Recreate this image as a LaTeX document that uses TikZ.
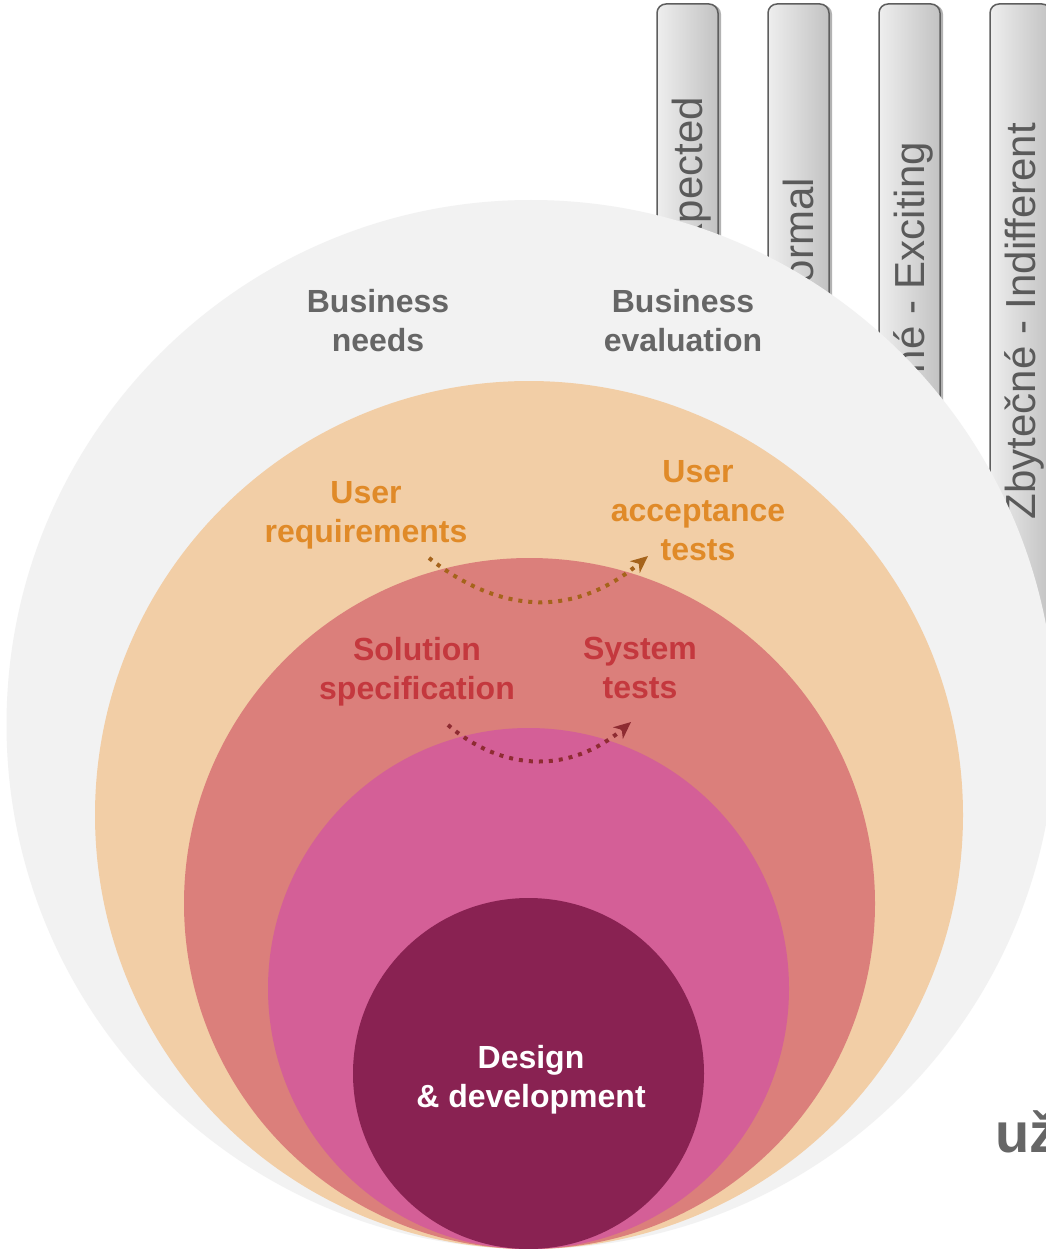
\documentclass[tikz,border=0pt]{standalone}
\usepackage{fontspec}
\setmainfont{Liberation Sans}
\usetikzlibrary{arrows.meta,shadows}
\definecolor{cgray}{HTML}{F2F2F2}
\definecolor{cpeach}{HTML}{F2CEA6}
\definecolor{cred}{HTML}{DB7F7B}
\definecolor{cpink}{HTML}{D45F97}
\definecolor{cdark}{HTML}{892252}
\definecolor{tgray}{HTML}{666666}
\definecolor{torange}{HTML}{E08A28}
\definecolor{tred}{HTML}{C4383E}
\definecolor{abrown}{HTML}{A5631B}
\definecolor{adred}{HTML}{8E2B32}
\definecolor{tabline}{HTML}{5E5E5E}
\definecolor{tabl}{HTML}{EEEEEE}
\definecolor{tabr}{HTML}{C2C2C2}
\definecolor{tabtext}{HTML}{5A5A5A}
\begin{document}
\begin{tikzpicture}[x=1pt,y=-1pt,
  tabbox/.style={draw=tabline,line width=1.5pt,rounded corners=9pt,
    left color=tabl,right color=tabr,
    drop shadow={shadow xshift=3pt,shadow yshift=-1pt,opacity=.3,fill=black}},
  tabtxt/.style={rotate=90,anchor=base east,inner sep=0pt,text=tabtext,
    font=\fontsize{42}{50}\selectfont},
  lbl/.style={align=center,inner sep=0pt,font=\bfseries\fontsize{32}{39}\selectfont},
  arr/.style={line width=4pt,dash pattern=on 4pt off 6pt,
    -{Stealth[length=17pt,width=15pt,inset=5pt]}}]
\useasboundingbox (0,0) rectangle (1045,1249);
\fill[white] (0,0) rectangle (1045,1249);
% tabs
\draw[tabbox] (657,4) rectangle (718,720);
\draw[tabbox] (768,4) rectangle (829,720);
\draw[tabbox] (879,4) rectangle (940,720);
\draw[tabbox] (990,4) rectangle (1051,720);
\node[tabtxt] (t1) at (702.5,97) {Expected};
\node[tabtxt] (t2) at (813.5,178) {Normal};
\node[tabtxt] (t3) at (924.5,142) {né - Exciting};
\node[tabtxt] (t4) at (1035.5,123) {Zbytečné - Indifferent};
% circles
\fill[cgray] (531,724.5) circle[radius=524.5pt];
\fill[cpeach] (529,815) circle[radius=434pt];
\fill[cred] (529.5,903.5) circle[radius=345.5pt];
\fill[cpink] (528.5,988.5) circle[radius=260.5pt];
\fill[cdark] (528.5,1073.5) circle[radius=175.5pt];
% labels
\node[lbl,text=tgray] (bn) at (378,321) {Business\\needs};
\node[lbl,text=tgray] (be) at (683,321) {Business\\evaluation};
\node[lbl,text=torange] (ur) at (366,515) {User\\requirements};
\node[lbl,text=torange] (ua) at (698,511) {User\\acceptance\\tests};
\node[lbl,text=tred] (ss) at (417,672) {Solution\\specification};
\node[lbl,text=tred] (st) at (640,668) {System\\tests};
\node[lbl,text=white] (dd) at (531,1080) {Design\\\& development};
\node[anchor=base west,inner sep=0pt,text=tgray,font=\bfseries\fontsize{56}{60}\selectfont] (uz) at (995,1152) {už};
% arrows
\coordinate (a1s) at (429,558);
\coordinate (a1e) at (648,556);
\coordinate (a2s) at (448,725);
\coordinate (a2e) at (631,722);
\draw[arr,abrown] (a1s) .. controls (497,612) and (572,620) .. (a1e);
\draw[arr,adred] (a2s) .. controls (504,773) and (571,773) .. (a2e);
\end{tikzpicture}
\end{document}
